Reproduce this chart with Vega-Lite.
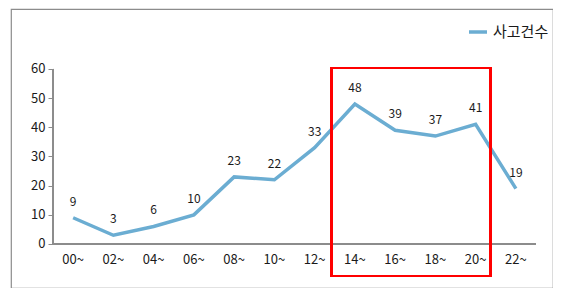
{
  "$schema": "https://vega.github.io/schema/vega-lite/v6.json",
  "autosize": {"type": "none"},
  "padding": {"left": 11, "top": 9, "right": 0, "bottom": 0},
  "width": 542,
  "height": 279,
  "background": "white",
  "config": {
    "view": {"stroke": "#8c8c8c", "strokeWidth": 1.2},
    "font": "Noto Sans CJK KR"
  },
  "data": {"values": [
    {"hour": "00~", "count": 9, "series": "사고건수"},
    {"hour": "02~", "count": 3, "series": "사고건수"},
    {"hour": "04~", "count": 6, "series": "사고건수"},
    {"hour": "06~", "count": 10, "series": "사고건수"},
    {"hour": "08~", "count": 23, "series": "사고건수"},
    {"hour": "10~", "count": 22, "series": "사고건수"},
    {"hour": "12~", "count": 33, "series": "사고건수"},
    {"hour": "14~", "count": 48, "series": "사고건수"},
    {"hour": "16~", "count": 39, "series": "사고건수"},
    {"hour": "18~", "count": 37, "series": "사고건수"},
    {"hour": "20~", "count": 41, "series": "사고건수"},
    {"hour": "22~", "count": 19, "series": "사고건수"}
  ]},
  "encoding": {
    "x": {
      "field": "hour", "type": "ordinal", "sort": null,
      "scale": {"type": "band", "domain": ["00~", "02~", "04~", "06~", "08~", "10~", "12~", "14~", "16~", "18~", "20~", "22~"], "paddingInner": 0, "paddingOuter": 0.733, "align": 0.712},
      "axis": {"title": null, "orient": "bottom", "offset": -44, "domain": false, "ticks": false, "labelAngle": 0, "labelPadding": 9, "labelFontSize": 13, "labelColor": "#1a1a1a", "labelFont": "Noto Sans CJK KR"}
    },
    "y": {
      "field": "count", "type": "quantitative",
      "scale": {"domain": [-15.09, 80.57], "nice": false, "zero": false},
      "axis": {"title": null, "orient": "left", "offset": -42, "domain": false, "grid": false, "values": [0, 10, 20, 30, 40, 50, 60], "tickSize": 5, "tickColor": "#8c8c8c", "labelPadding": 3, "labelFontSize": 13, "labelColor": "#1a1a1a", "labelFont": "Noto Sans CJK KR"}
    }
  },
  "layer": [
    {
      "mark": {"type": "rule", "color": "#8c8c8c", "strokeWidth": 1},
      "encoding": {
        "x": {"datum": "00~", "bandPosition": 0},
        "y": {"datum": 0},
        "y2": {"datum": 60}
      }
    },
    {
      "mark": {"type": "rule", "color": "#8c8c8c", "strokeWidth": 1},
      "encoding": {
        "x": {"datum": "00~", "bandPosition": 0},
        "x2": {"datum": "22~", "bandPosition": 1},
        "y": {"datum": 0}
      }
    },
    {
      "mark": {"type": "line", "strokeWidth": 3.5, "strokeJoin": "miter"},
      "encoding": {
        "color": {"field": "series", "type": "nominal", "scale": {"range": ["#6badd2"]},
          "legend": {"title": null, "orient": "none", "legendX": 456, "legendY": 12, "symbolType": "stroke", "symbolStrokeWidth": 3.5, "symbolSize": 324, "labelFontSize": 15, "labelColor": "#1a1a1a", "labelFont": "Noto Sans CJK KR", "padding": 0}
        }
      }
    },
    {
      "mark": {"type": "text", "dy": -16, "fontSize": 12, "color": "#1a1a1a", "font": "Noto Sans CJK KR"},
      "encoding": {"text": {"field": "count", "type": "quantitative"}}
    },
    {
      "mark": {"type": "rect", "fill": null, "fillOpacity": 0, "stroke": "#ff0000", "strokeWidth": 2},
      "encoding": {
        "x": {"datum": "14~", "bandPosition": -0.08},
        "x2": {"datum": "20~", "bandPosition": 0.87},
        "y": {"datum": 60.34},
        "y2": {"datum": -10.97}
      }
    }
  ]
}
